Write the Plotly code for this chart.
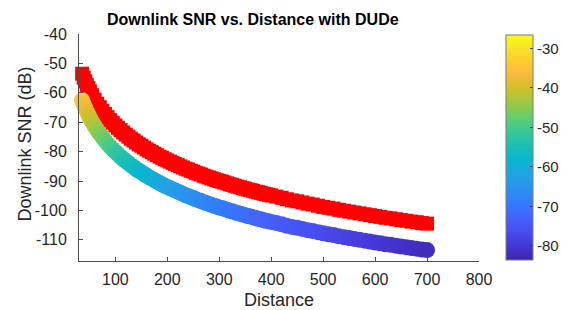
import plotly.graph_objects as go

distance = [36, 39, 42, 45, 48, 51, 55, 60, 65, 70, 75, 80, 85, 90, 95, 100,
            105, 110, 115, 120, 125, 130, 135, 140, 145, 150, 155, 160, 165, 170, 175, 180, 185, 190, 195, 200,
            205, 210, 215, 220, 225, 230, 235, 240, 245, 250, 255, 260, 265, 270, 275, 280, 285, 290, 295, 300,
            305, 310, 315, 320, 325, 330, 335, 340, 345, 350, 355, 360, 365, 370, 375, 380, 385, 390, 395, 400,
            410, 420, 430, 440, 450, 460, 470, 480, 490, 500,
            510, 520, 530, 540, 550, 560, 570, 580, 590, 600,
            610, 620, 630, 640, 650, 660, 670, 680, 690, 700]

snr_coupled = [-53.5, -54.9, -56.1, -57.3, -58.4, -59.5, -60.8, -62.3, -63.7, -64.9, -66.1, -67.2, -68.3, -69.3, -70.2, -71.1,
               -71.9, -72.7, -73.5, -74.2, -74.9, -75.6, -76.2, -76.9, -77.5, -78.0, -78.6, -79.2, -79.7, -80.2, -80.7, -81.2, -81.7, -82.1, -82.6, -83.0,
               -83.4, -83.8, -84.2, -84.6, -85.0, -85.4, -85.8, -86.1, -86.5, -86.8, -87.2, -87.5, -87.8, -88.2, -88.5, -88.8, -89.1, -89.4, -89.7, -90.0,
               -90.2, -90.5, -90.8, -91.1, -91.3, -91.6, -91.9, -92.1, -92.4, -92.6, -92.9, -93.1, -93.3, -93.6, -93.8, -94.0, -94.3, -94.5, -94.7, -94.9,
               -95.3, -95.7, -96.2, -96.6, -96.9, -97.3, -97.7, -98.0, -98.4, -98.8,
               -99.1, -99.4, -99.8, -100.1, -100.4, -100.7, -101.0, -101.3, -101.6, -101.9,
               -102.2, -102.5, -102.7, -103.0, -103.3, -103.5, -103.8, -104.0, -104.3, -104.5]

snr_dude = [-62.5, -63.9, -65.1, -66.3, -67.4, -68.5, -69.8, -71.3, -72.7, -73.9, -75.1, -76.2, -77.3, -78.3, -79.2, -80.1,
            -80.9, -81.7, -82.5, -83.2, -83.9, -84.6, -85.2, -85.9, -86.5, -87.0, -87.6, -88.2, -88.7, -89.2, -89.7, -90.2, -90.7, -91.1, -91.6, -92.0,
            -92.4, -92.8, -93.2, -93.6, -94.0, -94.4, -94.8, -95.1, -95.5, -95.8, -96.2, -96.5, -96.8, -97.2, -97.5, -97.8, -98.1, -98.4, -98.7, -99.0,
            -99.2, -99.5, -99.8, -100.1, -100.3, -100.6, -100.9, -101.1, -101.4, -101.6, -101.9, -102.1, -102.3, -102.6, -102.8, -103.0, -103.3, -103.5, -103.7, -103.9,
            -104.3, -104.7, -105.2, -105.6, -105.9, -106.3, -106.7, -107.0, -107.4, -107.8,
            -108.1, -108.4, -108.8, -109.1, -109.4, -109.7, -110.0, -110.3, -110.6, -110.9,
            -111.2, -111.5, -111.7, -112.0, -112.3, -112.5, -112.8, -113.0, -113.3, -113.5]

color_value = [-34.5, -35.8, -37.0, -38.1, -39.1, -40.1, -41.3, -42.7, -44.0, -45.2, -46.3, -47.3, -48.3, -49.2, -50.0, -50.9,
               -51.7, -52.4, -53.1, -53.8, -54.4, -55.1, -55.7, -56.3, -56.8, -57.4, -57.9, -58.4, -58.9, -59.4, -59.8, -60.3, -60.7, -61.2, -61.6, -62.0,
               -62.4, -62.8, -63.1, -63.5, -63.9, -64.2, -64.6, -64.9, -65.2, -65.6, -65.9, -66.2, -66.5, -66.8, -67.1, -67.4, -67.7, -67.9, -68.2, -68.5,
               -68.7, -69.0, -69.3, -69.5, -69.8, -70.0, -70.2, -70.5, -70.7, -71.0, -71.2, -71.4, -71.6, -71.8, -72.1, -72.3, -72.5, -72.7, -72.9, -73.1,
               -73.5, -73.9, -74.2, -74.6, -75.0, -75.3, -75.7, -76.0, -76.3, -76.7,
               -77.0, -77.3, -77.6, -77.9, -78.2, -78.5, -78.8, -79.0, -79.3, -79.6,
               -79.8, -80.1, -80.4, -80.6, -80.9, -81.1, -81.4, -81.6, -81.8, -82.1]

assert len(distance) == len(snr_coupled) == len(snr_dude) == len(color_value)

x_ticks = [100, 200, 300, 400, 500, 600, 700, 800]
y_ticks = [-40, -50, -60, -70, -80, -90, -100, -110]
cbar_ticks = [-30, -40, -50, -60, -70, -80]

# MATLAB parula (R2014b) colormap, sampled
parula = [
    [0.0, "#3e26a8"], [0.0635, "#4537d5"], [0.127, "#484df0"], [0.1905, "#4563fd"],
    [0.254, "#327cfc"], [0.3175, "#2b91ef"], [0.381, "#20a5e3"], [0.4444, "#08b5d0"],
    [0.5079, "#19bfb6"], [0.5714, "#37c897"], [0.6349, "#64cd6f"], [0.6984, "#9dc943"],
    [0.7619, "#d1bf27"], [0.8254, "#f8ba3d"], [0.8413, "#febe3c"], [0.8889, "#fccf30"],
    [0.9524, "#f5e924"], [1.0, "#f9fb15"],
]

FONT = "Liberation Sans, Arial, sans-serif"
TXT = "#262626"

fig = go.Figure()
fig.add_trace(go.Scatter(
    x=distance, y=snr_coupled, mode="markers", cliponaxis=False, showlegend=False,
    marker=dict(symbol="square", size=14, color="#ff0000", line=dict(width=0)),
))
fig.add_trace(go.Scatter(
    x=distance, y=snr_dude, mode="markers", cliponaxis=False, showlegend=False,
    marker=dict(
        symbol="circle", size=16, color=color_value, colorscale=parula,
        cmin=-83.6, cmax=-26.6, line=dict(width=0), showscale=True,
        colorbar=dict(
            x=(506 - 79) / 400, xanchor="left", xpad=0,
            y=0.5, yanchor="middle", ypad=0,
            thickness=27, thicknessmode="pixels", len=225, lenmode="pixels",
            outlinecolor="#7a7a7a", outlinewidth=1,
            tickmode="array", tickvals=cbar_ticks, ticktext=[str(v) for v in cbar_ticks],
            ticks="inside", ticklen=3, tickcolor="#333333",
            tickfont=dict(family=FONT, size=15, color=TXT),
        ),
    ),
))

fig.update_layout(
    width=574, height=310,
    margin=dict(l=79, r=95, t=34, b=49, autoexpand=False),
    paper_bgcolor="white", plot_bgcolor="white",
    font=dict(family=FONT, color=TXT),
    hovermode=False,
    xaxis=dict(
        range=[30, 800], tickmode="array", tickvals=x_ticks, ticktext=[str(v) for v in x_ticks],
        ticks="inside", ticklen=4, tickcolor="#4d4d4d", showline=True, linecolor="#4d4d4d",
        linewidth=1, showgrid=False, zeroline=False, mirror=False, automargin=False,
        tickfont=dict(family=FONT, size=16, color=TXT), ticklabelstandoff=4,
    ),
    yaxis=dict(
        range=[-117.2, -40], tickmode="array", tickvals=y_ticks, ticktext=[str(v) for v in y_ticks],
        ticks="inside", ticklen=4, tickcolor="#4d4d4d", showline=True, linecolor="#4d4d4d",
        linewidth=1, showgrid=False, zeroline=False, mirror=False, automargin=False,
        tickfont=dict(family=FONT, size=16, color=TXT), ticklabelstandoff=8,
    ),
    annotations=[
        dict(text="<b>Downlink SNR vs. Distance with DUDe</b>", xref="paper", yref="paper",
             x=(105 - 79) / 400, y=(261 - 20) / 227, xanchor="left", yanchor="middle",
             showarrow=False, font=dict(family=FONT, size=16, color="#000000")),
        dict(text="Distance", xref="paper", yref="paper",
             x=0.5, y=(261 - 300) / 227, xanchor="center", yanchor="middle",
             showarrow=False, font=dict(family=FONT, size=18, color=TXT)),
        dict(text="Downlink SNR (dB)", xref="paper", yref="paper", textangle=-90,
             x=(24.5 - 79) / 400, y=(261 - 144) / 227, xanchor="center", yanchor="middle",
             showarrow=False, font=dict(family=FONT, size=18, color=TXT)),
    ],
)

fig.write_html("out.html", config={"displayModeBar": False},
               post_script="document.body.style.margin='0';")
